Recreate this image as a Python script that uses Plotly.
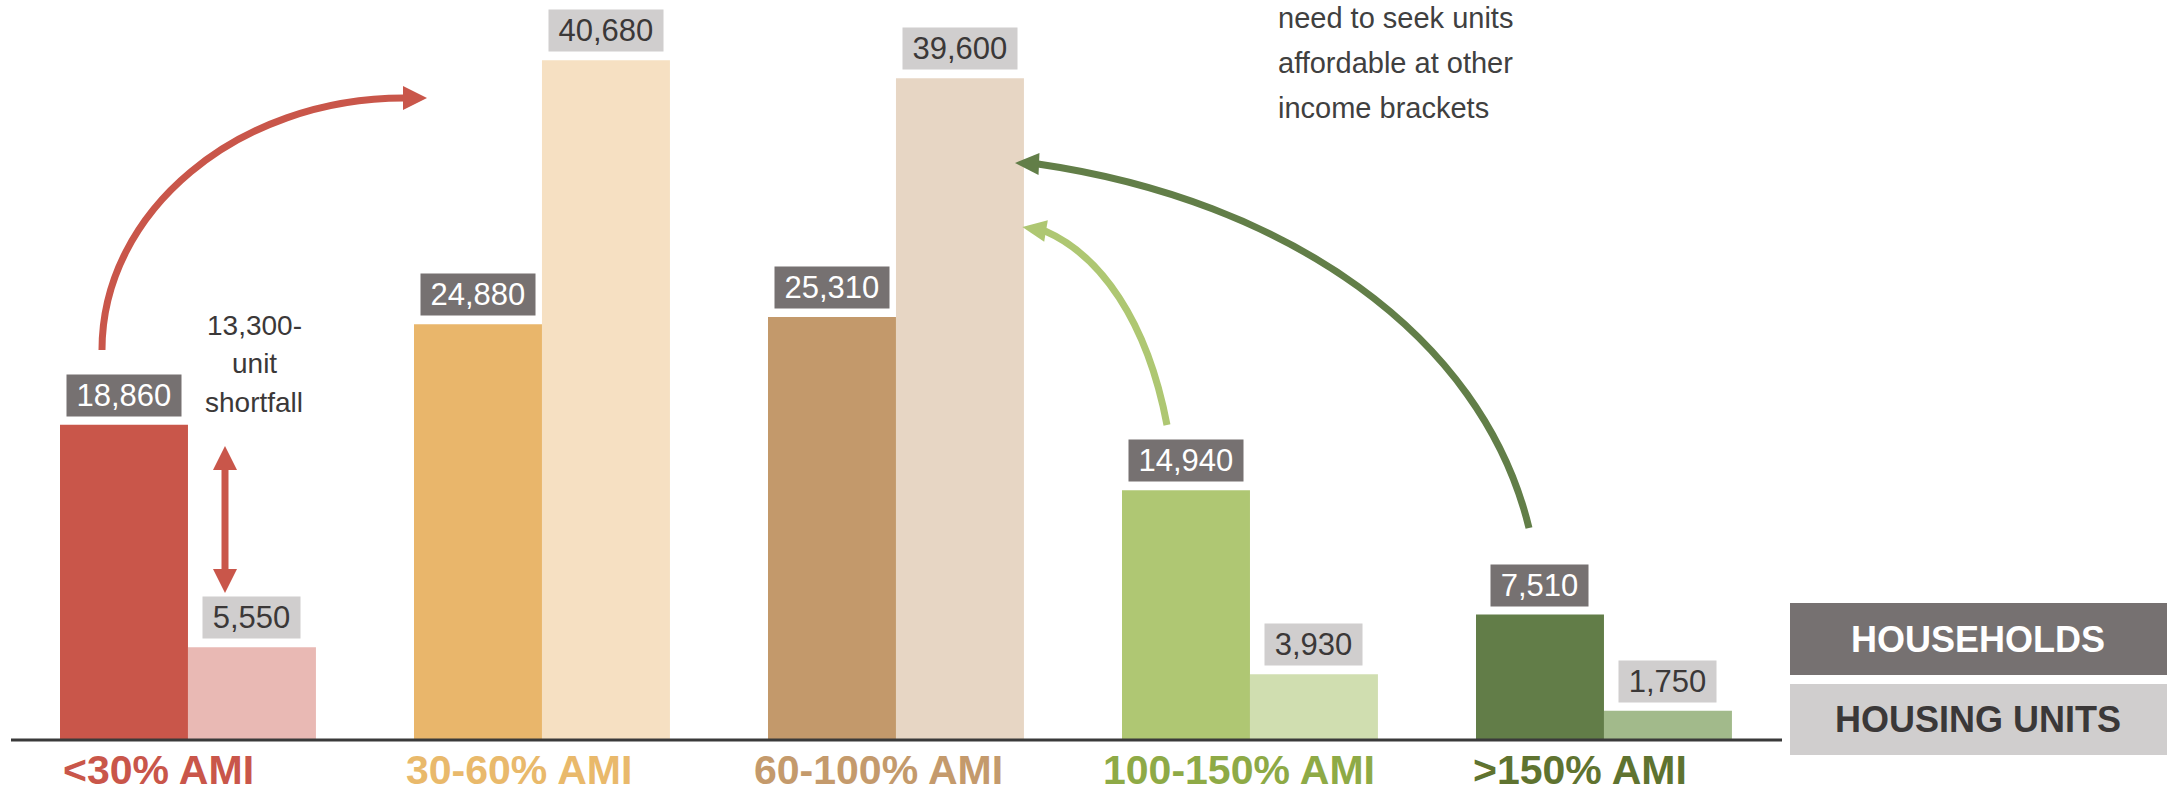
import plotly.graph_objects as go

# ---- data -------------------------------------------------------------
categories = ["<30% AMI", "30-60% AMI", "60-100% AMI", "100-150% AMI", ">150% AMI"]
households = [18860, 24880, 25310, 14940, 7510]
housing_units = [5550, 40680, 39600, 3930, 1750]

hh_colors = ["#c9564a", "#e9b66b", "#c3996b", "#afc773", "#627d48"]
hu_colors = ["#e9b9b4", "#f6e0c2", "#e7d6c4", "#d0deb0", "#a2ba8b"]
label_colors = ["#c9564a", "#e9b96b", "#c49a6c", "#8eaa46", "#5f7330"]

# ---- canvas / layout constants ---------------------------------------
W, H = 2167, 794
BAR_W = 0.3615                      # width of one bar in category units
X_RANGE = [-0.531, 5.5905]
Y_RANGE = [-3232, 44285]
HH_BOX, HU_BOX = "#767171", "#d0cece"
DARK_TEXT = "#3b3838"
FONT = "Arial, Liberation Sans, sans-serif"

xs = list(range(len(categories)))


def px(x):
    return x / W


def py(y):
    return 1 - y / H


def fmt(v):
    return f"{v:,}"


fig = go.Figure()

fig.add_trace(go.Bar(
    x=xs, y=households, width=BAR_W, offset=-BAR_W,
    marker=dict(color=hh_colors, line=dict(width=0)),
    name="Households", hoverinfo="skip",
))
fig.add_trace(go.Bar(
    x=xs, y=housing_units, width=BAR_W, offset=0,
    marker=dict(color=hu_colors, line=dict(width=0)),
    name="Housing units", hoverinfo="skip",
))

annotations = []

TAG_SIZE = 31


def box_width(text):
    digits = sum(c.isdigit() for c in text)
    commas = text.count(",")
    return 30 * (0.556 * digits + 0.278 * commas) + 14


# value tags above the bars
for i, (h, u) in enumerate(zip(households, housing_units)):
    for val, xc, bg, fc in ((h, i - BAR_W / 2, HH_BOX, "white"),
                            (u, i + BAR_W / 2, HU_BOX, DARK_TEXT)):
        t = fmt(val)
        annotations.append(dict(
            x=xc, y=val, xref="x", yref="y", text=t, showarrow=False,
            xanchor="center", yanchor="bottom", yshift=8,
            bgcolor=bg, borderpad=3, width=box_width(t) + 2,
            font=dict(family=FONT, size=TAG_SIZE, color=fc),
        ))

# category labels under the axis
label_cx = [158, 519, 878, 1239, 1580]
for cat, cx, col in zip(categories, label_cx, label_colors):
    annotations.append(dict(
        x=px(cx), y=py(770), xref="paper", yref="paper", text=f"<b>{cat}</b>",
        showarrow=False, xanchor="center", yanchor="middle",
        font=dict(family=FONT, size=41, color=col),
    ))

# shortfall note
for line, base in zip(["13,300-", "unit", "shortfall"], [335, 373, 412]):
    annotations.append(dict(
        x=px(254), y=py(base - 10), xref="paper", yref="paper", text=line,
        showarrow=False, xanchor="center", yanchor="middle",
        font=dict(family=FONT, size=28, color=DARK_TEXT),
    ))

# note at the top right
for line, base in zip(["need to seek units", "affordable at other", "income brackets"],
                      [29, 74, 119]):
    annotations.append(dict(
        x=px(1276), y=py(base - 11), xref="paper", yref="paper", text=line,
        showarrow=False, xanchor="left", yanchor="middle",
        font=dict(family=FONT, size=29, color="#404040"),
    ))

# legend boxes
legend_items = [("HOUSEHOLDS", HH_BOX, "white", 603, 675),
                ("HOUSING UNITS", HU_BOX, DARK_TEXT, 684, 755)]
shapes = []
for text, bg, fc, y0, y1 in legend_items:
    shapes.append(dict(type="rect", xref="paper", yref="paper",
                       x0=px(1790), x1=px(2167), y0=py(y1), y1=py(y0),
                       fillcolor=bg, line=dict(width=0), layer="below"))
    annotations.append(dict(
        x=px(1978), y=py((y0 + y1) / 2), xref="paper", yref="paper",
        text=f"<b>{text}</b>", showarrow=False, xanchor="center", yanchor="middle",
        font=dict(family=FONT, size=36, color=fc),
    ))

# baseline
shapes.append(dict(type="line", xref="paper", yref="paper",
                   x0=px(11), x1=px(1782), y0=py(740), y1=py(740),
                   line=dict(color="#3a3a3a", width=3)))


def curve(p0, p1, p2, p3, color, width=7):
    d = "M {:.5f},{:.5f} C {:.5f},{:.5f} {:.5f},{:.5f} {:.5f},{:.5f}".format(
        px(p0[0]), py(p0[1]), px(p1[0]), py(p1[1]),
        px(p2[0]), py(p2[1]), px(p3[0]), py(p3[1]))
    return dict(type="path", xref="paper", yref="paper", path=d,
                line=dict(color=color, width=width), layer="above")


def head(back, direction, color, length=24, half=12):
    dx, dy = direction
    n = (dx * dx + dy * dy) ** 0.5
    ux, uy = dx / n, dy / n
    tip = (back[0] + ux * length, back[1] + uy * length)
    l = (back[0] - uy * half, back[1] + ux * half)
    r = (back[0] + uy * half, back[1] - ux * half)
    d = "M {:.5f},{:.5f} L {:.5f},{:.5f} L {:.5f},{:.5f} Z".format(
        px(tip[0]), py(tip[1]), px(l[0]), py(l[1]), px(r[0]), py(r[1]))
    return dict(type="path", xref="paper", yref="paper", path=d,
                fillcolor=color, line=dict(width=0), layer="above")


RED, LGREEN, DGREEN = "#c9564a", "#aec772", "#627e48"

# red arc from the lowest bracket toward the 30-60% units
shapes.append(curve((102, 350), (102, 211), (238, 98), (404, 98), RED))
shapes.append(head((403, 98), (1, 0), RED))

# light green arc from 100-150% to the 60-100% units
shapes.append(curve((1167, 425), (1147, 320), (1100, 255), (1045, 231), LGREEN))
shapes.append(head((1046, 231), (-24, -4), LGREEN, half=11))

# dark green arc from >150% to the 60-100% units
shapes.append(curve((1529, 528), (1482, 334), (1285, 200), (1038, 164), DGREEN))
shapes.append(head((1039, 164), (-24, -1), DGREEN, half=11))

# double-headed shortfall arrow
shapes.append(dict(type="line", xref="paper", yref="paper",
                   x0=px(225), x1=px(225), y0=py(468), y1=py(571),
                   line=dict(color=RED, width=7), layer="above"))
shapes.append(head((225, 470), (0, -1), RED))
shapes.append(head((225, 569), (0, 1), RED))

fig.update_layout(
    width=W, height=H,
    margin=dict(l=0, r=0, t=0, b=0, pad=0),
    paper_bgcolor="white", plot_bgcolor="white",
    showlegend=False,
    barmode="overlay",
    xaxis=dict(range=X_RANGE, domain=[0, 1], visible=False, fixedrange=True),
    yaxis=dict(range=Y_RANGE, domain=[0, 1], visible=False, fixedrange=True),
    annotations=annotations,
    shapes=shapes,
)

fig.write_html("out.html", config={"displayModeBar": False})
